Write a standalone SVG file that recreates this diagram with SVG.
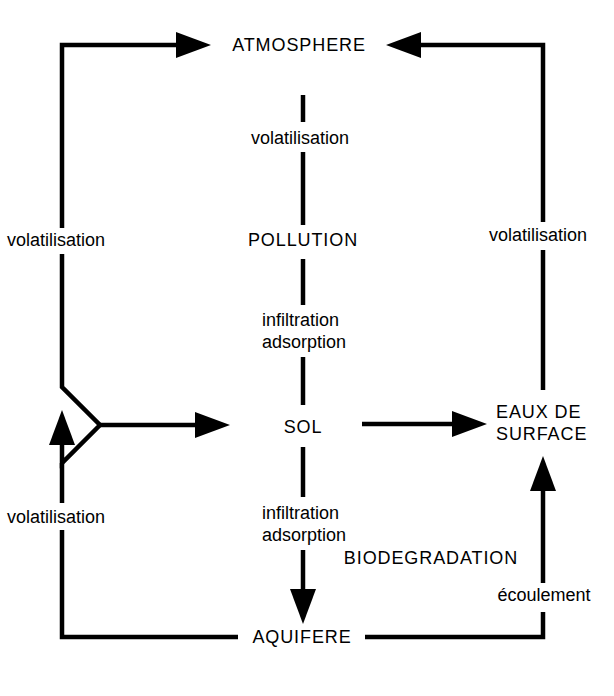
<svg xmlns="http://www.w3.org/2000/svg" width="614" height="696" viewBox="0 0 614 696">
<style>
text{font-family:"Liberation Sans",Arial,sans-serif;font-size:18px;fill:#000}
.m{text-anchor:middle}
.k{letter-spacing:0.9px}
.c{fill:none;stroke:#000;stroke-width:4.5;stroke-linecap:butt;stroke-linejoin:miter}
</style>
<defs>
<marker id="ah" viewBox="0 0 35 26" refX="0" refY="13" markerWidth="35" markerHeight="26" markerUnits="userSpaceOnUse" orient="auto">
<path d="M0,0 L35,13 L0,26 Z" fill="#000"/>
</marker>
</defs>
<rect width="614" height="696" fill="#fff"/>
<g id="connectors">
<path class="c" d="M62,228 V45 H176" marker-end="url(#ah)"/>
<path class="c" d="M62,254 V387 L100,425 L62,463 V445" marker-end="url(#ah)"/>
<path class="c" d="M100,425 H195" marker-end="url(#ah)"/>
<path class="c" d="M62,463 V503"/>
<path class="c" d="M62,530 V637 H238"/>
<path class="c" d="M543,222 V45 H421" marker-end="url(#ah)"/>
<path class="c" d="M543,250 V390"/>
<path class="c" d="M362,424 H452" marker-end="url(#ah)"/>
<path class="c" d="M365,637 H543 V612"/>
<path class="c" d="M543,583 V491" marker-end="url(#ah)"/>
<path class="c" d="M303,95 V122"/>
<path class="c" d="M303,152 V225"/>
<path class="c" d="M303,259 V305"/>
<path class="c" d="M303,357 V405"/>
<path class="c" d="M303,447 V497"/>
<path class="c" d="M303,550 V589" marker-end="url(#ah)"/>
<text class="m" x="300" y="144">volatilisation</text>
<text x="262" y="326">infiltration</text>
<text x="262" y="348">adsorption</text>
<text x="262" y="519">infiltration</text>
<text x="262" y="541">adsorption</text>
<text class="m" x="56" y="246">volatilisation</text>
<text class="m" x="56" y="523">volatilisation</text>
<text class="m" x="538" y="241">volatilisation</text>
<text class="m" x="544" y="601">écoulement</text>
<text class="m k" x="431" y="564">BIODEGRADATION</text>
</g>
<g id="atmosphere"><text class="m k" x="299" y="51">ATMOSPHERE</text></g>
<g id="pollution"><text class="m k" x="303" y="246">POLLUTION</text></g>
<g id="sol"><text class="m k" x="303" y="433">SOL</text></g>
<g id="eaux"><text class="k" x="496" y="418">EAUX DE</text><text class="k" x="496" y="440">SURFACE</text></g>
<g id="aquifere"><text class="m k" x="302" y="643">AQUIFERE</text></g>
</svg>
